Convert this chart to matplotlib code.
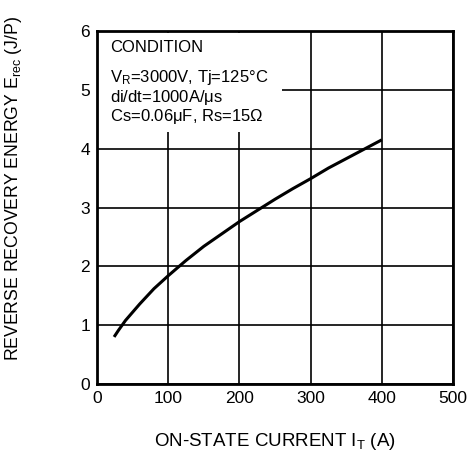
import matplotlib
matplotlib.use("Agg")
import matplotlib.pyplot as plt
from matplotlib.patches import Rectangle

plt.rcParams['font.family'] = ['Liberation Sans', 'DejaVu Sans']
plt.rcParams['mathtext.fontset'] = 'custom'
plt.rcParams['mathtext.rm'] = 'Liberation Sans'
plt.rcParams['mathtext.it'] = 'Liberation Sans'

# curve
current = [24, 30, 40, 50, 60, 80, 100, 125, 150, 175, 200, 250, 275, 300, 325, 350, 375, 400]
energy = [0.80, 0.91, 1.08, 1.22, 1.36, 1.62, 1.84, 2.10, 2.34, 2.55, 2.76, 3.14, 3.32, 3.49, 3.67, 3.83, 3.99, 4.15]

x_ticks = [0, 100, 200, 300, 400, 500]
y_ticks = [0, 1, 2, 3, 4, 5, 6]

fig = plt.figure(figsize=(4.74, 4.59), dpi=100)
ax = fig.add_axes([97/474, 1 - 384/459, 356/474, 353/459])

ax.plot(current, energy, color='black', lw=2.2, solid_capstyle='butt')

ax.set_xlim(0, 500)
ax.set_ylim(0, 6)
ax.set_xticks(x_ticks)
ax.set_yticks(y_ticks)
ax.grid(True, color='black', lw=1.2)
ax.set_axisbelow(True)
for s in ax.spines.values():
    s.set_linewidth(2)
ax.tick_params(length=0, labelsize=12.5, pad=5)

ax.set_xlabel(r'ON-STATE CURRENT I$_\mathregular{T}$ (A)', fontsize=13.5, labelpad=18)
ax.set_ylabel(r'REVERSE RECOVERY ENERGY E$_\mathregular{rec}$ (J/P)', fontsize=12.7)
ax.yaxis.set_label_coords(-0.205, 0.555)

# white panel behind the condition text
ax.add_patch(Rectangle((0, 0.714), 0.52, 0.28, transform=ax.transAxes,
                       facecolor='white', edgecolor='none', zorder=1))

ax.text(0.037, 0.952, 'CONDITION', transform=ax.transAxes, fontsize=12,
        va='center', ha='left', zorder=5)
cond = (r'V$_\mathregular{R}$=3000V, Tj=125°C' + '\n'
        r'di/dt=1000A/$\mathregular{\mu}$s' + '\n'
        r'Cs=0.06$\mathregular{\mu}$F, Rs=15$\Omega$')
ax.text(0.037, 0.895, cond, transform=ax.transAxes, fontsize=12,
        va='top', ha='left', linespacing=1.05, zorder=5)

fig.savefig('out.png', dpi=100)
